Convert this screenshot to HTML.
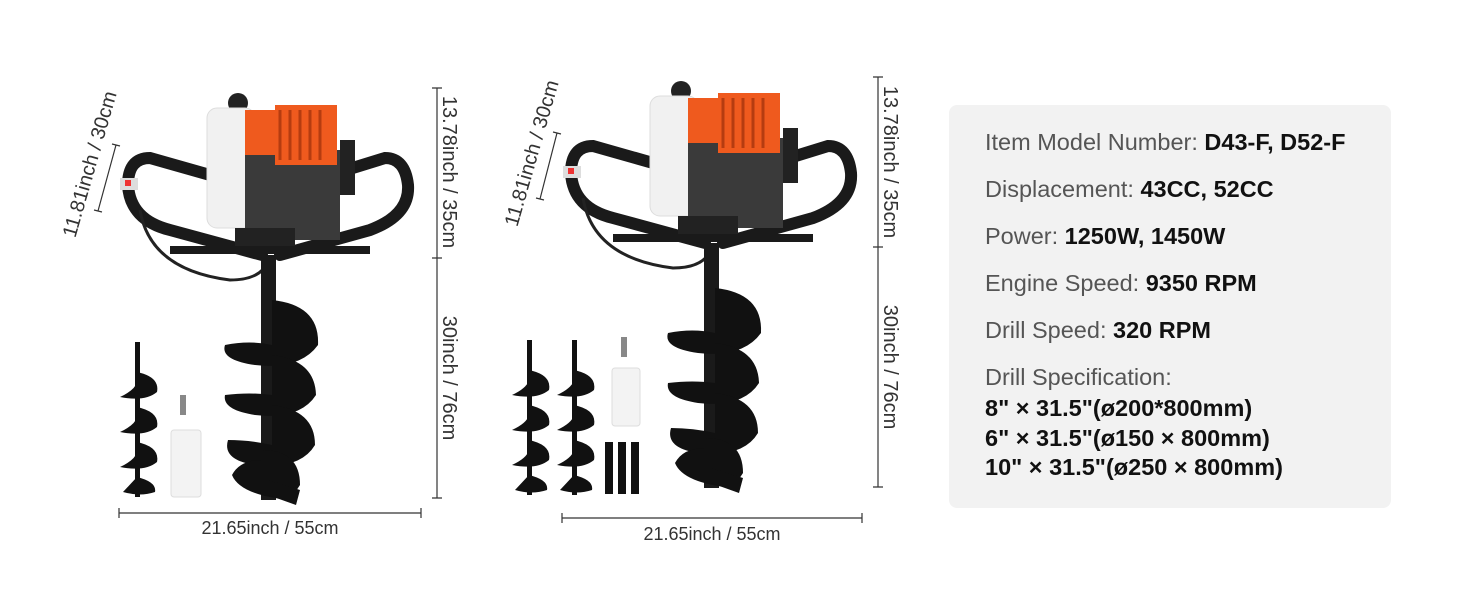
<!DOCTYPE html>
<html><head><meta charset="utf-8"><style>
html,body{margin:0;padding:0;background:#fff}
body{width:1464px;height:600px;position:relative;overflow:hidden;font-family:"Liberation Sans",Arial,sans-serif}
.box{position:absolute;left:949px;top:105px;width:442px;height:403px;background:#f2f2f2;border-radius:8px}
.l{position:absolute;left:985px;font-size:23.5px;color:#555;white-space:nowrap}
.l b{color:#111}
.s{position:absolute;left:985px;font-size:23.5px;color:#111;font-weight:bold;white-space:nowrap}
</style></head><body>
<svg width="1464" height="600" style="position:absolute;left:0;top:0" font-family="Liberation Sans, Arial, sans-serif">
<defs>
<g id="drill">
 <path d="M262,255 L170,230 Q130,220 128,185 Q128,158 150,158 L210,175" fill="none" stroke="#1a1a1a" stroke-width="12" stroke-linecap="round"/>
 <path d="M280,255 L370,230 Q410,215 408,185 Q405,158 385,158 L330,175" fill="none" stroke="#1a1a1a" stroke-width="12" stroke-linecap="round"/>
 <path d="M140,210 Q150,270 230,280 Q260,280 268,262" fill="none" stroke="#222" stroke-width="3"/>
 <rect x="120" y="178" width="18" height="12" fill="#ddd"/>
 <rect x="125" y="180" width="6" height="6" fill="#e33"/>
 <circle cx="238" cy="103" r="10" fill="#222"/>
 <rect x="207" y="108" width="48" height="120" rx="10" fill="#f1f1f1" stroke="#ddd"/>
 <rect x="245" y="150" width="95" height="90" fill="#3a3a3a"/>
 <rect x="245" y="110" width="30" height="45" fill="#ef5a1e"/>
 <rect x="275" y="105" width="62" height="60" fill="#ef5a1e"/>
 <path d="M280,110v50M290,110v50M300,110v50M310,110v50M320,110v50" stroke="#b53c10" stroke-width="3"/>
 <rect x="340" y="140" width="15" height="55" fill="#222"/>
 <rect x="235" y="228" width="60" height="24" fill="#222"/>
 <path d="M170,250 L370,250" stroke="#1a1a1a" stroke-width="8"/>
 <rect x="261" y="255" width="15" height="245" fill="#1a1a1a"/>
 <path d="M272,300 Q320,305 318,345 Q300,370 255,365 Q220,360 225,345 Q250,340 272,345Z" fill="#111"/>
 <path d="M272,355 Q315,360 316,395 Q300,420 255,415 Q222,410 225,395 Q250,392 272,395Z" fill="#111"/>
 <path d="M272,405 Q315,410 315,445 Q300,470 255,465 Q222,460 228,440 Q250,440 272,445Z" fill="#111"/>
 <path d="M262,450 Q300,450 300,485 L290,500 Q240,495 232,475 Q240,460 262,460Z" fill="#111"/>
 <path d="M268,480 L300,490 L296,505 L268,495Z" fill="#111"/>
</g>
<g id="small">
 <rect x="0" y="0" width="5" height="155" fill="#111"/>
 <path d="M2,30 Q25,35 22,50 Q10,60 -15,55 Q0,48 2,40Z M2,65 Q25,70 22,85 Q10,95 -15,90 Q0,83 2,75Z M2,100 Q25,105 22,120 Q10,130 -15,125 Q0,118 2,110Z M2,135 Q22,140 20,150 Q5,155 -12,150 Z" fill="#111"/>
</g>
</defs>
<use href="#drill"/>
<use href="#small" x="135" y="342"/>
<rect x="171" y="430" width="30" height="67" rx="3" fill="#f3f3f3" stroke="#ddd"/>
<rect x="180" y="395" width="6" height="20" fill="#888"/>
<g transform="translate(443,-12)"><use href="#drill"/></g>
<use href="#small" x="527" y="340"/>
<use href="#small" x="572" y="340"/>
<rect x="612" y="368" width="28" height="58" rx="3" fill="#f3f3f3" stroke="#ddd"/>
<rect x="621" y="337" width="6" height="20" fill="#888"/>
<rect x="605" y="442" width="8" height="52" fill="#111"/><rect x="618" y="442" width="8" height="52" fill="#111"/><rect x="631" y="442" width="8" height="52" fill="#111"/>

<g stroke="#333" stroke-width="1.2" fill="none">
 <path d="M437,88V498M432,88h10M432,258h10M432,498h10"/>
 <path d="M119,513H421M119,508v10M421,508v10"/>
 <path d="M878,77V487M873,77h10M873,247h10M873,487h10"/>
 <path d="M562,518H862M562,513v10M862,513v10"/>
 <path d="M98,211L116,145M94,210l8,2M112,144l8,2"/>
 <path d="M540,199L557,133M536,198l8,2M553,132l8,2"/>
</g>
<g fill="#333" font-size="18">
 <text x="270" y="534" text-anchor="middle">21.65inch / 55cm</text>
 <text x="712" y="540" text-anchor="middle">21.65inch / 55cm</text>
</g>
<g fill="#333" font-size="20">
 <text transform="translate(443,172) rotate(90)" text-anchor="middle">13.78inch / 35cm</text>
 <text transform="translate(443,378) rotate(90)" text-anchor="middle">30inch / 76cm</text>
 <text transform="translate(884,162) rotate(90)" text-anchor="middle">13.78inch / 35cm</text>
 <text transform="translate(884,367) rotate(90)" text-anchor="middle">30inch / 76cm</text>
 <text transform="translate(96,166) rotate(-74)" text-anchor="middle">11.81inch / 30cm</text>
 <text transform="translate(538,155) rotate(-74)" text-anchor="middle">11.81inch / 30cm</text>
</g>
</svg>
<div class="box"></div>
<div class="l" style="top:129px">Item Model Number: <b>D43-F, D52-F</b></div>
<div class="l" style="top:176px">Displacement: <b>43CC, 52CC</b></div>
<div class="l" style="top:223px">Power: <b>1250W, 1450W</b></div>
<div class="l" style="top:270px">Engine Speed: <b>9350 RPM</b></div>
<div class="l" style="top:317px">Drill Speed: <b>320 RPM</b></div>
<div class="l" style="top:364px">Drill Specification:</div>
<div class="s" style="top:395px">8" × 31.5"(ø200*800mm)</div>
<div class="s" style="top:425px">6" × 31.5"(ø150 × 800mm)</div>
<div class="s" style="top:454px">10" × 31.5"(ø250 × 800mm)</div>
</body></html>
